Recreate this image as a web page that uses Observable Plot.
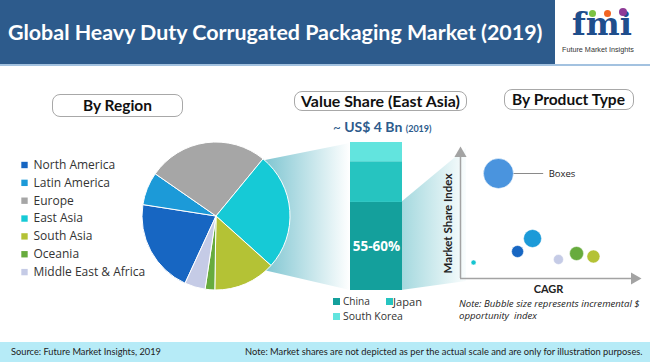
<!DOCTYPE html>
<html><head><meta charset="utf-8">
<script src="https://cdn.jsdelivr.net/npm/d3@7"></script>
<script src="https://cdn.jsdelivr.net/npm/@observablehq/plot@0.6"></script>
<style>
body{margin:0;background:#fff;}
#wrap{position:relative;width:650px;height:362px;overflow:hidden;background:#fff;}
#wrap > div{position:absolute;}
.box{border:1px solid #a8a8a8;border-radius:8px;box-sizing:border-box;}
.t{white-space:nowrap;line-height:1;}
</style></head><body><div id="wrap"></div><script>
// ---------- data ----------
const regions = ["North America","Latin America","Europe","East Asia","South Asia","Oceania","Middle East & Africa"];
const regionShares = [20.6, 7.2, 26.3, 25.7, 13.6, 2.1, 4.5];
const regionColors = ["#1766c2","#1c9ad8","#a6a6a6","#16cad6","#b4c235","#67ab3d","#c5cbe6"];
const countries = ["China","Japan","South Korea"];
const eastAsiaShares = [59.5, 27.5, 13];
const countryColors = ["#14a09c","#26c4c0","#62e4de"];
const products = ["Boxes","Product 2","Product 3","Product 4","Product 5","Product 6","Product 7"];
const productCagr = [21.8, 41.4, 32.8, 7.5, 56.3, 66.7, 76.4];
const productShareIndex = [84, 32, 21.6, 12.8, 15.2, 20, 17.6];
const productOpportunity = [100, 36, 16, 2.8, 11, 21.8, 18.8];
const productColors = ["#4a94de","#1c9ad8","#1766c2","#16c4d0","#c5cbe6","#67ab3d","#b4c235"];

const wrap = document.getElementById("wrap");
function div(css, html="") { const d = document.createElement("div"); d.style.cssText = css; d.innerHTML = html; wrap.appendChild(d); return d; }
function txt(html, {x, cy, w, size=12, weight="normal", family="Lato", color="#222", style="normal", anchor="start", lh=1}) {
  const d = div(`font-family:${family};font-size:${size}px;font-weight:${weight};color:${color};font-style:${style};line-height:${lh};`, html);
  d.className = "t";
  d.style.lineHeight = lh;
  if (w) { const r = d.getBoundingClientRect(); d.style.fontSize = (size * w / r.width) + "px"; }
  const r = d.getBoundingClientRect();
  d.style.left = (anchor === "middle" ? x - r.width / 2 : x) + "px";
  d.style.top = (cy - r.height / 2) + "px";
  return d;
}
function place(svg, left, top) { const d = div(`left:${left}px;top:${top}px;`); d.appendChild(svg); }

// ---------- header ----------
div("left:0;top:0;width:650px;height:64px;background:#2d5b8c;");
div("left:0;top:64px;width:650px;height:2px;background:#a3c2e0;");
div("left:555px;top:0;width:95px;height:64px;background:#fff;");
txt("Global Heavy Duty Corrugated Packaging Market (2019)", {x: 8, cy: 32.5, w: 535, size: 21, weight: "bold", color: "#fff"});
// logo
txt("fmi", {x: 572, cy: 25, w: 60, size: 30, weight: "bold", family: "DejaVu Serif", color: "#1f4e8c", lh: 0.8});
div("left:589px;top:10px;width:7px;height:7px;border-radius:50%;background:#7cc242;");
div("left:604px;top:10px;width:7px;height:7px;border-radius:50%;background:#f26522;");
div("left:619px;top:8px;width:8px;height:8px;border-radius:50%;background:#8e3b96;");
txt("Future Market Insights", {x: 562, cy: 49.5, w: 72, size: 7, family: "Liberation Sans", color: "#333"});

// ---------- footer ----------
div("left:0;top:342px;width:650px;height:20px;background:#b6ebf7;");
txt("Source: Future Market Insights, 2019", {x: 11, cy: 351.5, w: 150, size: 9.5, color: "#222"});
txt("Note: Market shares are not depicted as per the actual scale and are only for illustration purposes.", {x: 245, cy: 351.5, w: 398, size: 9.5, color: "#222"});

// ---------- decoration + pie + legend (one Plot, identity scales) ----------
const regionData = regions.map((r, i) => ({region: r, share: regionShares[i], row: i}));
const wedges = () => {
  const g = d3.create("svg:g");
  const defs = g.append("defs");
  const g1 = defs.append("linearGradient").attr("id", "gl").attr("gradientUnits", "userSpaceOnUse")
    .attr("x1", 262).attr("x2", 350).attr("y1", 0).attr("y2", 0);
  g1.append("stop").attr("offset", 0).attr("stop-color", "#7cc4d0");
  g1.append("stop").attr("offset", 1).attr("stop-color", "#ffffff");
  const g2 = defs.append("linearGradient").attr("id", "gr").attr("gradientUnits", "userSpaceOnUse")
    .attr("x1", 401).attr("x2", 470).attr("y1", 0).attr("y2", 0);
  g2.append("stop").attr("offset", 0).attr("stop-color", "#a3d8de");
  g2.append("stop").attr("offset", 1).attr("stop-color", "#ffffff");
  g.append("path").attr("d", "M255,162L350,143L350,290L255,268Z").attr("fill", "url(#gl)");
  g.append("path").attr("d", "M401,202L466,148L466,281L401,290Z").attr("fill", "url(#gr)");
  return g.node();
};
const pie = (index, scales) => {
  const g = d3.create("svg:g").attr("transform", `translate(${scales.x(216)},${scales.y(216)})`);
  const a0 = 204.7 * Math.PI / 180;
  const arcs = d3.pie().sort(null).value(d => d.share).startAngle(a0).endAngle(a0 + 2 * Math.PI)(regionData);
  g.selectAll("path").data(arcs).join("path")
    .attr("d", d3.arc().innerRadius(0).outerRadius(74))
    .attr("fill", d => scales.color(d.data.region))
    .attr("stroke", "#fff").attr("stroke-width", 1).attr("stroke-linejoin", "round");
  return g.node();
};
const main = Plot.plot({
  width: 650, height: 362, margin: 0,
  x: {domain: [0, 650], range: [0, 650], axis: null},
  y: {domain: [0, 362], range: [0, 362], axis: null},
  color: {domain: regions, range: regionColors},
  style: {background: "transparent", overflow: "visible"},
  marks: [
    wedges,
    pie,
    Plot.dot(regionData, {x: 24, y: d => 164.5 + d.row * 17.85, symbol: "square", r: 3.6, fill: "region"}),
    Plot.text(regionData, {x: 33, y: d => 164.5 + d.row * 17.85, text: "region", textAnchor: "start",
      fontSize: 12, fontFamily: "Open Sans", fill: "#333"})
  ]
});
place(main, 0, 0);

// ---------- stacked bar ----------
const barData = countries.map((c, i) => ({region: "East Asia", country: c, share: eastAsiaShares[i]}));
const bar = Plot.plot({
  width: 52, height: 148, margin: 0,
  x: {axis: null, padding: 0},
  y: {domain: [0, 100], axis: null},
  color: {domain: countries, range: countryColors},
  style: {background: "transparent", overflow: "visible"},
  marks: [
    Plot.barY(barData, {x: "region", y: "share", fill: "country"}),
    Plot.text([barData[0]], {x: "region", y: d => d.share / 2, text: () => "55-60%", fill: "#fff",
      fontWeight: "bold", fontSize: 13.5, fontFamily: "Open Sans"})
  ]
});
place(bar, 350, 142);

// ---------- bubble chart ----------
const bubbles = products.map((p, i) => ({name: p, cagr: productCagr[i], share: productShareIndex[i], opp: productOpportunity[i], color: productColors[i]}));
const bub = Plot.plot({
  width: 200, height: 150, marginLeft: 20, marginRight: 6, marginTop: 13, marginBottom: 12,
  x: {domain: [0, 100], axis: null},
  y: {domain: [0, 100], axis: null},
  r: {type: "sqrt", domain: [0, 100], range: [0, 15]},
  style: {background: "transparent", overflow: "visible"},
  marks: [
    Plot.ruleX([0], {stroke: "#a3a3a3", strokeWidth: 1.5}),
    Plot.ruleY([0], {stroke: "#a3a3a3", strokeWidth: 1.5}),
    Plot.dot([0], {x: 0, y: 100, symbol: "triangle", r: 4.5, fill: "#a3a3a3", stroke: null}),
    Plot.dot([0], {x: 100, y: 0, symbol: "triangle", r: 4.5, fill: "#a3a3a3", stroke: null, rotate: 90}),
    Plot.ruleY([bubbles[0]], {y: "share", x1: "cagr", x2: d => d.cagr + 26, stroke: "#8a8a8a", strokeWidth: 1}),
    Plot.dot(bubbles, {x: "cagr", y: "share", r: "opp", fill: "color", stroke: "#fff", strokeWidth: 0.5}),
    Plot.text([bubbles[0]], {x: d => d.cagr + 26, y: "share", dx: 5, text: "name", textAnchor: "start",
      fontSize: 9.5, fontFamily: "Open Sans", fill: "#222"}),
    Plot.text(["Market Share Index"], {x: 0, y: 44, dx: -12, rotate: -90, text: d => d, fontWeight: "bold",
      fontSize: 11.5, fontFamily: "Lato", fill: "#222"}),
    Plot.text(["CAGR"], {x: 50.6, y: 0, dy: 10.5, text: d => d, fontWeight: "bold",
      fontSize: 11, fontFamily: "Lato", fill: "#222"})
  ]
});
place(bub, 440, 140);

// ---------- section titles & labels ----------
div("left:52px;top:94px;width:131px;height:23px;", "").className = "box";
div("left:294px;top:91px;width:173px;height:20px;", "").className = "box";
div("left:504px;top:89px;width:130px;height:21px;", "").className = "box";
txt("By Region", {x: 117.5, cy: 105.5, w: 69, size: 16, weight: "bold", anchor: "middle", color: "#111"});
txt("Value Share (East Asia)", {x: 380.5, cy: 101, w: 159, size: 16, weight: "bold", anchor: "middle", color: "#111"});
txt("By Product Type", {x: 568.5, cy: 99.5, w: 113, size: 16, weight: "bold", anchor: "middle", color: "#111"});
txt('~ <b style="font-size:14px">US$ 4 Bn</b> <b style="font-size:9px">(2019)</b>', {x: 333, cy: 127.5, w: 101, size: 13, color: "#2d5b8c"});

// bar legend
countries.forEach((c, i) => {
  const pos = [[333, 301.5], [386, 301.5], [333, 316.5]][i];
  div(`left:${pos[0]}px;top:${pos[1] - 3.5}px;width:7px;height:7px;background:${countryColors[i]};`);
});
txt("China", {x: 343, cy: 301.5, w: 27, size: 12, family: "Open Sans", color: "#333"});
txt("Japan", {x: 393, cy: 301.5, w: 29, size: 12, family: "Open Sans", color: "#333"});
txt("South Korea", {x: 343, cy: 316.5, w: 60, size: 12, family: "Open Sans", color: "#333"});

// bubble note (same size for both lines)
const n1 = txt("Note: Bubble size represents incremental $", {x: 459, cy: 303.5, w: 181, size: 9.5, family: "Open Sans", style: "italic", color: "#222"});
const noteSize = parseFloat(n1.style.fontSize);
txt("opportunity&nbsp; index", {x: 459, cy: 315.5, size: noteSize, family: "Open Sans", style: "italic", color: "#222"});
</script></body></html>
